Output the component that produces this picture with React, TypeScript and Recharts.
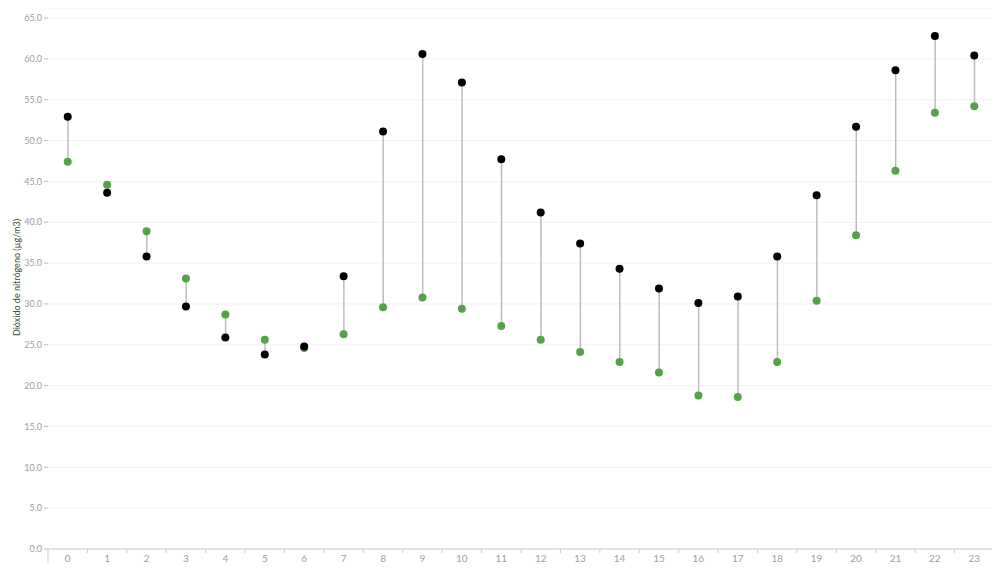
import { ComposedChart, Bar, Line, XAxis, YAxis, CartesianGrid, ReferenceLine } from 'recharts'

const hours = ['0', '1', '2', '3', '4', '5', '6', '7', '8', '9', '10', '11', '12', '13', '14', '15', '16', '17', '18', '19', '20', '21', '22', '23']
const blackSeries = [52.9, 43.6, 35.8, 29.7, 25.9, 23.8, 24.8, 33.4, 51.1, 60.6, 57.1, 47.7, 41.2, 37.4, 34.3, 31.9, 30.1, 30.9, 35.8, 43.3, 51.7, 58.6, 62.8, 60.4]
const greenSeries = [47.4, 44.6, 38.9, 33.1, 28.7, 25.6, 24.6, 26.3, 29.6, 30.8, 29.4, 27.3, 25.6, 24.1, 22.9, 21.6, 18.8, 18.6, 22.9, 30.4, 38.4, 46.3, 53.4, 54.2]
const yTicks = [0, 5, 10, 15, 20, 25, 30, 35, 40, 45, 50, 55, 60, 65]

const data = hours.map((h, i) => ({
  hour: h,
  black: blackSeries[i],
  green: greenSeries[i],
  range: [Math.min(blackSeries[i], greenSeries[i]), Math.max(blackSeries[i], greenSeries[i])],
}))

const FONT = 'Lato, "Open Sans", sans-serif'
const BAND = 39.42
const Y_MAX = 66.47

function Stem(props: any) {
  const { x, y, width, height } = props
  const cx = x + width / 2
  return <line x1={cx} x2={cx} y1={y} y2={y + height} stroke="#bdbdbd" strokeWidth={1.5} />
}

function HourTick(props: any) {
  const { x, y, payload, index } = props
  const left = x - BAND / 2
  const right = x + BAND / 2
  const last = index === hours.length - 1
  return (
    <g>
      <line x1={left} x2={left} y1={y} y2={y + (index === 0 ? 16 : 4)} stroke="#ccc" />
      {last && <line x1={right} x2={right} y1={y} y2={y + 16} stroke="#ccc" />}
      <text x={x} y={y + 13} textAnchor="middle" fontSize={10} fill="#9e9e9e" fontFamily={FONT}>
        {payload.value}
      </text>
    </g>
  )
}

export default function App() {
  return (
    <div style={{ margin: -8, width: 1000, height: 571 }}>
      <ComposedChart width={1000} height={571} data={data} margin={{ top: 6, right: 6, bottom: 0, left: 0 }}>
        <CartesianGrid vertical={false} stroke="#f1f1f1" />
        <XAxis
          dataKey="hour"
          height={22}
          tickSize={0}
          tickMargin={0}
          axisLine={{ stroke: '#ccc' }}
          tick={<HourTick />}
          interval={0}
        />
        <YAxis
          width={48}
          domain={[0, Y_MAX]}
          ticks={yTicks}
          tickFormatter={(v: number) => v.toFixed(1)}
          axisLine={false}
          tickSize={4}
          tickLine={{ stroke: '#bbb' }}
          tick={{ fontSize: 9, fill: '#9e9e9e', fontFamily: FONT }}
          label={{
            value: 'Dióxido de nitrógeno (µg/m3)',
            angle: -90,
            position: 'insideLeft',
            offset: 17,
            style: { fontSize: 9, fill: '#444', fontFamily: FONT, textAnchor: 'middle' },
          }}
        />
        {/* top border of the plot area */}
        <ReferenceLine y={66.3} stroke="#e0e0e0" strokeWidth={1.5} ifOverflow="extendDomain" />
        <Bar dataKey="range" shape={<Stem />} isAnimationActive={false} />
        <Line
          dataKey="green"
          stroke="none"
          dot={{ r: 4, fill: '#55a24a', stroke: 'none' }}
          activeDot={false}
          isAnimationActive={false}
        />
        <Line
          dataKey="black"
          stroke="none"
          dot={{ r: 4, fill: '#000', stroke: 'none' }}
          activeDot={false}
          isAnimationActive={false}
        />
      </ComposedChart>
    </div>
  )
}
